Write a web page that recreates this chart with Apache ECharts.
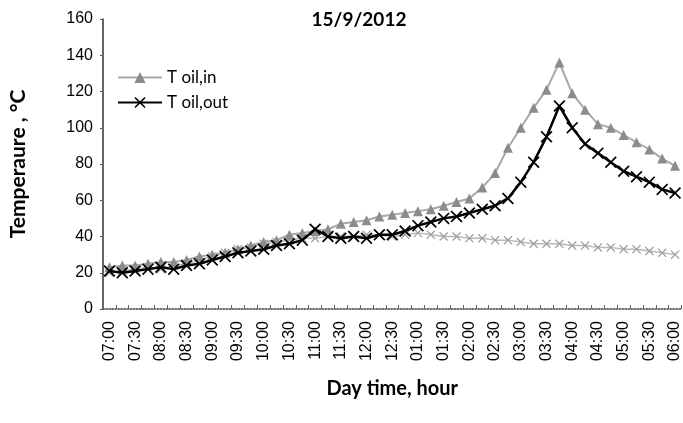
<!DOCTYPE html>
<html><head><meta charset="utf-8">
<script src="https://cdn.jsdelivr.net/npm/echarts@6/dist/echarts.min.js"></script>
<style>html,body{margin:0;padding:0;background:#fff}#c{width:683px;height:423px}</style>
</head><body><div id="c"></div>
<script>
const categories = ["07:00","07:15","07:30","07:45","08:00","08:15","08:30","08:45","09:00","09:15","09:30","09:45","10:00","10:15","10:30","10:45","11:00","11:15","11:30","11:45","12:00","12:15","12:30","12:45","01:00","01:15","01:30","01:45","02:00","02:15","02:30","02:45","03:00","03:15","03:30","03:45","04:00","04:15","04:30","04:45","05:00","05:15","05:30","05:45","06:00"];
const tOilIn = [23,24,24,25,26,26,27,29,30,31,33,35,37,38,41,42,43,44,47,48,49,51,52,53,54,55,57,59,61,67,75,89,100,111,121,136,119,110,102,100,96,92,88,83,79];
const tOilOut = [21,20,21,22,23,22,24,25,27,29,31,32,33,35,36,38,44,40,39,40,39,41,41,43,46,48,50,51,53,55,57,61,70,81,95,112,100,91,86,81,76,73,70,66,64];
const tAmb = [20,21,22,23,22,24,25,27,29,31,33,34,36,37,38,39,39,40,40,40,41,41,40,41,42,41,40,40,39,39,38,38,37,36,36,36,35,35,34,34,33,33,32,31,30];
const yTicks = [0,20,40,60,80,100,120,140,160];
const X = 'path://M0,1L1,0L5,4L9,0L10,1L6,5L10,9L9,10L5,6L1,10L0,9L4,5Z';
const chart = echarts.init(document.getElementById('c'));
chart.setOption({
  animation:false,
  title:{text:'15/9/2012',left:354,top:5,textAlign:'center',textStyle:{fontFamily:'Lato',fontWeight:'bold',fontSize:19,color:'#000'}},
  legend:{orient:'vertical',left:112,top:64,itemGap:8,itemWidth:44,itemHeight:14,data:['T oil,in','T oil,out'],
    textStyle:{fontFamily:'Lato',fontSize:17,color:'#000'}},
  grid:{left:100,top:19,width:584,bottom:114},
  xAxis:{type:'category',data:categories,boundaryGap:true,
    name:'Day time, hour',nameLocation:'middle',nameGap:70,
    nameTextStyle:{fontFamily:'Lato',fontWeight:'bold',fontSize:20,color:'#000'},
    axisLine:{lineStyle:{color:'#444',type:'dotted',width:1.5}},
    axisTick:{show:true,length:-4,interval:0,lineStyle:{color:'#666'}},
    axisLabel:{interval:1,rotate:90,margin:12,fontFamily:'Liberation Sans',fontSize:16,color:'#000'}},
  yAxis:{type:'value',min:0,max:160,interval:20,
    name:'Temperaure , °C',nameLocation:'middle',nameGap:74,
    nameTextStyle:{fontFamily:'Lato',fontWeight:'bold',fontSize:21,color:'#000'},
    axisLine:{show:true,lineStyle:{color:'#333',width:1.5}},
    axisTick:{show:true,length:3,lineStyle:{color:'#555'}},
    splitLine:{show:false},
    axisLabel:{margin:10,fontFamily:'Liberation Sans',fontSize:16,color:'#000',
      formatter:v=>yTicks.includes(v)?String(v):''}},
  series:[
    {name:'ambient',type:'line',data:tAmb,symbol:X,symbolSize:9,showAllSymbol:true,
      lineStyle:{color:'#b8b8b8',width:1.5},itemStyle:{color:'#a0a0a0'},z:1},
    {name:'T oil,in',type:'line',data:tOilIn,symbol:'triangle',symbolSize:10,showAllSymbol:true,
      lineStyle:{color:'#a8a8a8',width:2},itemStyle:{color:'#8c8c8c'},z:2},
    {name:'T oil,out',type:'line',data:tOilOut,symbol:X,symbolSize:12,showAllSymbol:true,
      lineStyle:{color:'#000',width:2.5},itemStyle:{color:'#000'},z:3}
  ]
});
</script></body></html>
